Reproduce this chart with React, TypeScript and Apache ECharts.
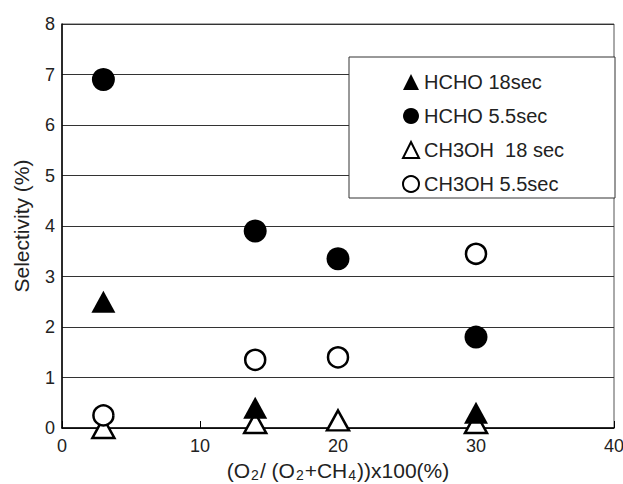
import React, { useEffect, useRef } from "react";
import * as echarts from "echarts";

const xTicks = [0, 10, 20, 30, 40];
const seriesNames = ["HCHO 18sec", "HCHO 5.5sec", "CH3OH  18 sec", "CH3OH 5.5sec"];
const hcho18: [number, number][] = [[3, 2.5], [14, 0.4], [30, 0.3]];
const hcho55: [number, number][] = [[3, 6.9], [14, 3.9], [20, 3.35], [30, 1.8]];
const ch3oh18: [number, number][] = [[3, 0.0], [14, 0.1], [20, 0.15], [30, 0.1]];
const ch3oh55: [number, number][] = [[3, 0.25], [14, 1.35], [20, 1.4], [30, 3.45]];

const FONT = "Liberation Sans, Arial, sans-serif";

export default function App() {
  const ref = useRef<HTMLDivElement>(null);
  useEffect(() => {
    if (!ref.current) return;
    const chart = echarts.init(ref.current, undefined, { renderer: "svg" });
    const filled = { color: "#000", borderColor: "#000", borderWidth: 0, opacity: 1 };
    const empty = { color: "#fff", borderColor: "#000", borderWidth: 2.5, opacity: 1 };
    chart.setOption({
      animation: false,
      backgroundColor: "#fff",
      textStyle: { fontFamily: FONT },
      grid: {
        left: 62,
        right: 9,
        top: 24,
        bottom: 56,
        show: true,
        borderColor: "#555",
        borderWidth: 1,
        containLabel: false,
        outerBoundsMode: "none",
      },
      xAxis: {
        type: "value",
        min: xTicks[0],
        max: xTicks[xTicks.length - 1],
        interval: 10,
        axisLine: { show: true, onZero: false, lineStyle: { color: "#000", width: 1.5 } },
        axisTick: { show: true, inside: true, length: 7, lineStyle: { color: "#000" } },
        splitLine: { show: false },
        axisLabel: { fontSize: 18, color: "#222", margin: 9, fontFamily: FONT },
        name: "{n|(O}{s|2}{n|/ (O}{s|2}{n|+CH}{s|4}{n|))x100(%)}",
        nameLocation: "middle",
        nameGap: 29,
        nameTextStyle: {
          rich: {
            n: { fontSize: 21, color: "#222", fontFamily: FONT },
            s: { fontSize: 14, color: "#222", fontFamily: FONT, padding: [10, 1, 0, 1] },
          },
        },
      },
      yAxis: {
        type: "value",
        min: 0,
        max: 8,
        interval: 1,
        axisLine: { show: true, lineStyle: { color: "#000", width: 1.5 } },
        axisTick: { show: false },
        splitLine: { show: true, lineStyle: { color: "#333", width: 1 } },
        axisLabel: { fontSize: 18, color: "#222", margin: 7, fontFamily: FONT },
        name: "Selectivity (%)",
        nameLocation: "middle",
        nameGap: 30,
        nameTextStyle: { fontSize: 21, color: "#222", fontFamily: FONT },
      },
      legend: {
        orient: "vertical",
        left: 402,
        top: 72,
        padding: 0,
        itemWidth: 16,
        itemHeight: 16,
        itemGap: 14,
        z: 5,
        textStyle: { fontSize: 20, color: "#222", fontFamily: FONT },
        data: [
          { name: seriesNames[0], icon: "triangle", itemStyle: filled },
          { name: seriesNames[1], icon: "circle", itemStyle: filled },
          { name: seriesNames[2], icon: "triangle", itemStyle: { ...empty, borderWidth: 2 } },
          { name: seriesNames[3], icon: "circle", itemStyle: { ...empty, borderWidth: 2 } },
        ],
      },
      graphic: [
        {
          type: "rect",
          z: 4,
          shape: { x: 349, y: 57, width: 266, height: 141 },
          style: { fill: "#fff", stroke: "#333", lineWidth: 1 },
        },
      ],
      series: [
        {
          name: seriesNames[2],
          type: "scatter",
          data: ch3oh18,
          symbol: "triangle",
          symbolSize: [22, 20],
          itemStyle: empty,
          z: 2,
        },
        {
          name: seriesNames[3],
          type: "scatter",
          data: ch3oh55,
          symbol: "circle",
          symbolSize: 20,
          itemStyle: empty,
          z: 2,
        },
        {
          name: seriesNames[0],
          type: "scatter",
          data: hcho18,
          symbol: "triangle",
          symbolSize: [24, 22],
          itemStyle: filled,
          z: 3,
        },
        {
          name: seriesNames[1],
          type: "scatter",
          data: hcho55,
          symbol: "circle",
          symbolSize: 23,
          itemStyle: filled,
          z: 3,
        },
      ],
    });
    return () => chart.dispose();
  }, []);
  return (
    <div
      ref={ref}
      style={{ position: "fixed", left: 0, top: 0, width: 623, height: 484 }}
    />
  );
}
